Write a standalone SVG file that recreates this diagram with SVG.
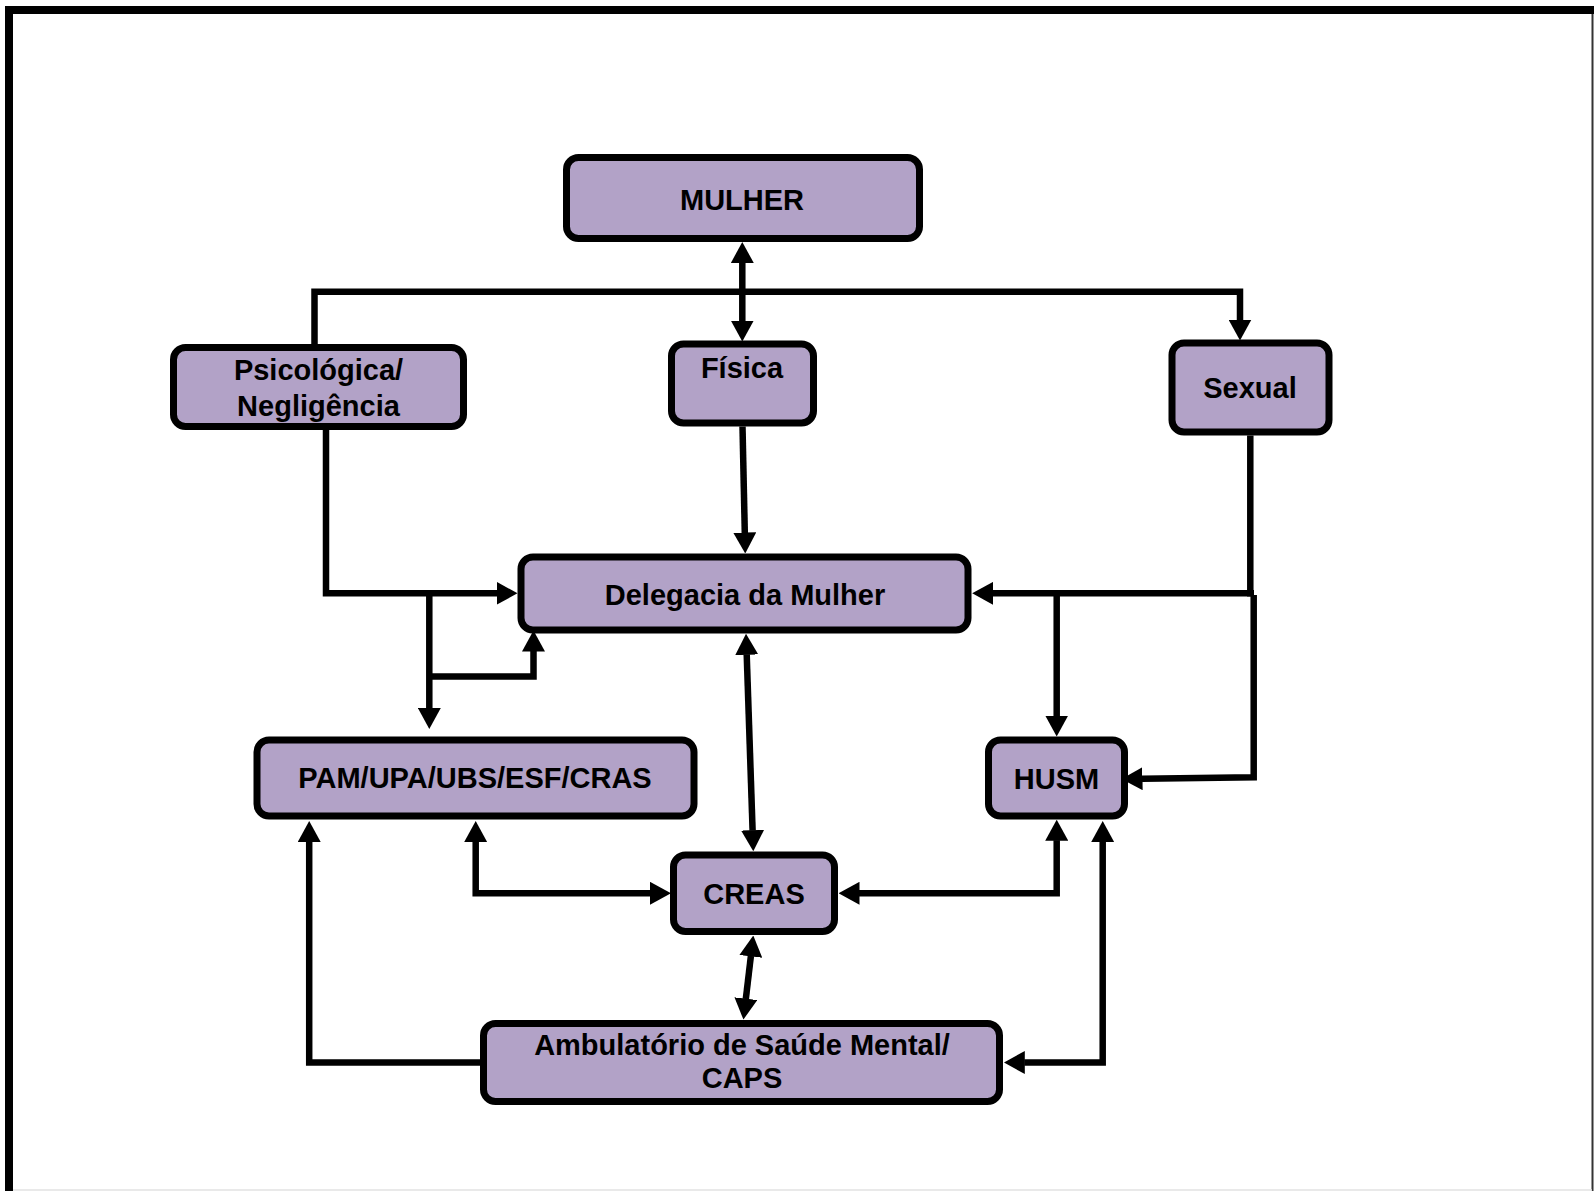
<svg xmlns="http://www.w3.org/2000/svg" width="1594" height="1191" viewBox="0 0 1594 1191">
<style>
.box{fill:#B2A2C7;stroke:#000;stroke-width:7}
.lbl{font-family:"Liberation Sans",Arial,sans-serif;font-weight:bold;font-size:29px;fill:#000;text-anchor:middle}
.c{fill:none;stroke:#000;stroke-width:6.5;stroke-linejoin:miter}
.a{marker-end:url(#ah)}
.b{marker-start:url(#ah);marker-end:url(#ah)}
</style>
<defs>
<marker id="ah" markerUnits="userSpaceOnUse" viewBox="0 0 21 23" refX="0.5" refY="11.5" markerWidth="21" markerHeight="23" orient="auto-start-reverse">
<path d="M0,0 L21,11.5 L0,23 Z" fill="#000"/>
</marker>
</defs>
<rect width="1594" height="1191" fill="#fff"/>
<g id="frame">
<line x1="5" y1="10" x2="1594" y2="10" stroke="#000" stroke-width="8"/>
<line x1="9" y1="6" x2="9" y2="1191" stroke="#000" stroke-width="8"/>
<line x1="1592.5" y1="14" x2="1592.5" y2="1191" stroke="#333" stroke-width="2"/>
<line x1="13" y1="1190" x2="1592" y2="1190" stroke="#e2e2e2" stroke-width="1.5"/>
</g>
<g id="mulher"><rect class="box" x="566.5" y="157.5" width="353" height="81" rx="12"/><text class="lbl" x="742" y="210">MULHER</text></g>
<g id="psicologica"><rect class="box" x="173.5" y="347.5" width="290" height="79" rx="12"/><text class="lbl" x="318.5" y="380">Psicológica/</text><text class="lbl" x="318.5" y="415.5">Negligência</text></g>
<g id="fisica"><rect class="box" x="671.5" y="344" width="142" height="79" rx="12"/><text class="lbl" x="742" y="378">Física</text></g>
<g id="sexual"><rect class="box" x="1172" y="343" width="157" height="89" rx="12"/><text class="lbl" x="1250" y="398">Sexual</text></g>
<g id="delegacia"><rect class="box" x="521" y="557" width="447" height="73" rx="12"/><text class="lbl" x="745" y="605">Delegacia da Mulher</text></g>
<g id="pam"><rect class="box" x="257" y="740" width="437" height="76" rx="12"/><text class="lbl" x="475" y="788">PAM/UPA/UBS/ESF/CRAS</text></g>
<g id="husm"><rect class="box" x="988.5" y="740" width="136" height="76" rx="12"/><text class="lbl" x="1056.5" y="789">HUSM</text></g>
<g id="creas"><rect class="box" x="673.5" y="855" width="161" height="76.5" rx="12"/><text class="lbl" x="754" y="904">CREAS</text></g>
<g id="ambulatorio"><rect class="box" x="483.5" y="1023.5" width="516" height="78" rx="12"/><text class="lbl" x="742" y="1055">Ambulatório de Saúde Mental/</text><text class="lbl" x="742" y="1088">CAPS</text></g>
<g id="connectors">
<path class="c b" d="M742.3,262.5 V321"/>
<path class="c a" d="M314.5,349 V291.7 H1240 V320"/>
<path class="c a" d="M742.5,426.5 L744.8,533"/>
<path class="c a" d="M326,430 V593.3 H497"/>
<path class="c a" d="M429.3,593 V708.5"/>
<path class="c a" d="M429.3,676.5 H533.5 V651"/>
<path class="c" d="M1250.3,435.5 V596.5"/>
<path class="c a" d="M1254,593.3 H992.7"/>
<path class="c a" d="M1056.7,593.3 V716"/>
<path class="c a" d="M1253.7,595 V777.3 L1142,778.7"/>
<path class="c b" d="M746.7,654.3 L752.6,830.7"/>
<path class="c b" d="M475.7,841.5 V893.3 H650.5"/>
<path class="c b" d="M1056.7,840.2 V893.3 H859"/>
<path class="c b" d="M750.9,955.9 L745.8,999.2"/>
<path class="c a" d="M481.7,1062.5 H309.2 V841.5"/>
<path class="c b" d="M1102.7,841.5 V1062.5 H1024.3"/>
</g>
</svg>
